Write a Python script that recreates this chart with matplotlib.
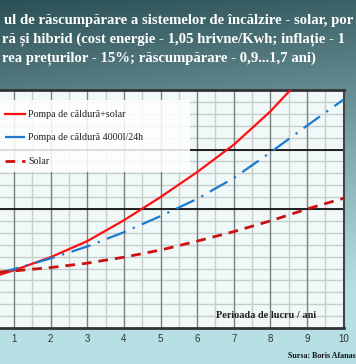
import numpy as np
import matplotlib
matplotlib.use("Agg")
import matplotlib.pyplot as plt
from matplotlib.patches import Rectangle
from matplotlib.lines import Line2D

# ---- data ----
years = [0, 1, 2, 3, 4, 5, 6, 7, 8, 9, 10]
hibrid = [3.9, 4.85, 5.95, 7.3, 9.05, 11.0, 13.1, 15.4, 18.2, 21.5, 25.0]
pompa = [4.2, 4.95, 5.85, 6.85, 8.05, 9.4, 10.85, 12.6, 14.75, 17.0, 19.2]
solar = [4.55, 4.8, 5.08, 5.45, 5.95, 6.55, 7.3, 8.1, 9.0, 10.0, 10.9]
labels = ["Pompa de căldură+solar", "Pompa de căldură 4000l/24h", "Solar"]
xticks = [1, 2, 3, 4, 5, 6, 7, 8, 9, 10]
ref_levels = [10, 15]

title_lines = [
    "ul de răscumpărare a sistemelor de încălzire - solar, por",
    "ră și hibrid (cost energie - 1,05 hrivne/Kwh; inflație - 1",
    "rea prețurilor - 15%; răscumpărare - 0,9...1,7 ani)",
]
xlabel = "Perioada de lucru / ani"
source = "Sursa: Boris Afanas"

W, H = 356, 364
fig = plt.figure(figsize=(W / 100, H / 100), dpi=100)

# background gradient
bg = fig.add_axes([0, 0, 1, 1], zorder=-5)
yy, xx = np.mgrid[0:H, 0:W]
t = np.interp(yy, [0, 80, 150, 250, 335], [0.0, 0.27, 0.5, 0.78, 1.0]) + 0.12 * xx / W
t = np.clip(t, 0, 1)[..., None]
dark = np.array([43, 80, 85]) / 255
light = np.array([182, 224, 228]) / 255
img = dark * (1 - t) + light * t
bg.imshow(img, aspect="auto", extent=[0, W, H, 0])
bg.set_axis_off()

# main axes (left edge cropped off-canvas)
x0 = -22.6
ax = fig.add_axes([x0 / W, (H - 328) / H, (343.6 - x0) / W, 238 / H])
ax.set_facecolor("#f0f8f8")
ax.set_xlim(0, 10)
ax.set_ylim(0, 20)

for v in np.arange(0.5, 10, 1.0):
    ax.axvline(v, color="#c6cdcd", lw=1.0, zorder=1)
for v in range(1, 10):
    ax.axvline(v, color="#7a8080", lw=1.0, zorder=1.5)
for v in range(1, 20):
    ax.axhline(v, color="#c6cdcd", lw=1.0, zorder=1)
for v in ref_levels:
    ax.axhline(v, color="#111111", lw=1.3, zorder=2)

ax.plot(years, hibrid, color="#ff1010", lw=1.6, zorder=4, label=labels[0])
ax.plot(years, pompa, color="#1a7ad0", lw=1.6, zorder=4,
        dashes=(9, 3.5, 1, 3.5), label=labels[1])
ax.plot(years, solar, color="#cc1010", lw=2.0, zorder=4,
        dashes=(3.5, 2.5), label=labels[2])

ax.set_xticks(xticks)
ax.set_xticklabels([str(v) for v in xticks], fontsize=7, color="#333333",
                   fontfamily="Liberation Sans")
ax.tick_params(axis="x", length=0, pad=4)
ax.set_yticks([])
ax.spines["left"].set_visible(False)
ax.spines["bottom"].set_color("#333333")
ax.spines["bottom"].set_linewidth(2)
ax.spines["top"].set_color("#333333")
ax.spines["top"].set_linewidth(2)
ax.spines["right"].set_color("#444444")
ax.spines["right"].set_linewidth(1.5)

ax.text((216 - x0) / (343.6 - x0), 10 / 238, xlabel, transform=ax.transAxes,
        fontsize=7.4, fontweight="bold", fontfamily="Liberation Serif",
        color="#222222", ha="left", va="baseline", zorder=6)

# legend box
fig.patches.append(Rectangle((0, 1 - 172 / H), 190 / W, 72 / H,
                             transform=fig.transFigure, facecolor="white",
                             edgecolor="none", alpha=0.85, zorder=5))
handles = [
    Line2D([], [], color="#ff1010", lw=1.6),
    Line2D([], [], color="#1a7ad0", lw=1.6, dashes=(9, 3.5, 1, 3.5)),
    Line2D([], [], color="#cc1010", lw=2.0, dashes=(3.5, 2.5)),
]
leg = fig.legend(handles, labels, loc="upper left",
                 bbox_to_anchor=(2 / W, 1 - 107 / H), frameon=False,
                 prop={"family": "Liberation Serif", "size": 7.2},
                 handlelength=2.0, handletextpad=0.35, labelspacing=1.45,
                 borderpad=0.3, borderaxespad=0)
leg.set_zorder(6)
for txt in leg.get_texts():
    txt.set_color("#222222")

# title
ys = [24, 43, 62]
xs = [4, 2, 2]
for line, y, x in zip(title_lines, ys, xs):
    fig.text(x / W, 1 - y / H, line, fontsize=10.6, fontweight="bold",
             fontfamily="Liberation Serif", color="white", ha="left",
             va="baseline")

fig.text(288 / W, 1 - 358 / H, source, fontsize=5.7, fontweight="bold",
         fontfamily="Liberation Serif", color="#111111", ha="left",
         va="baseline")

fig.savefig("out.png", dpi=100)
